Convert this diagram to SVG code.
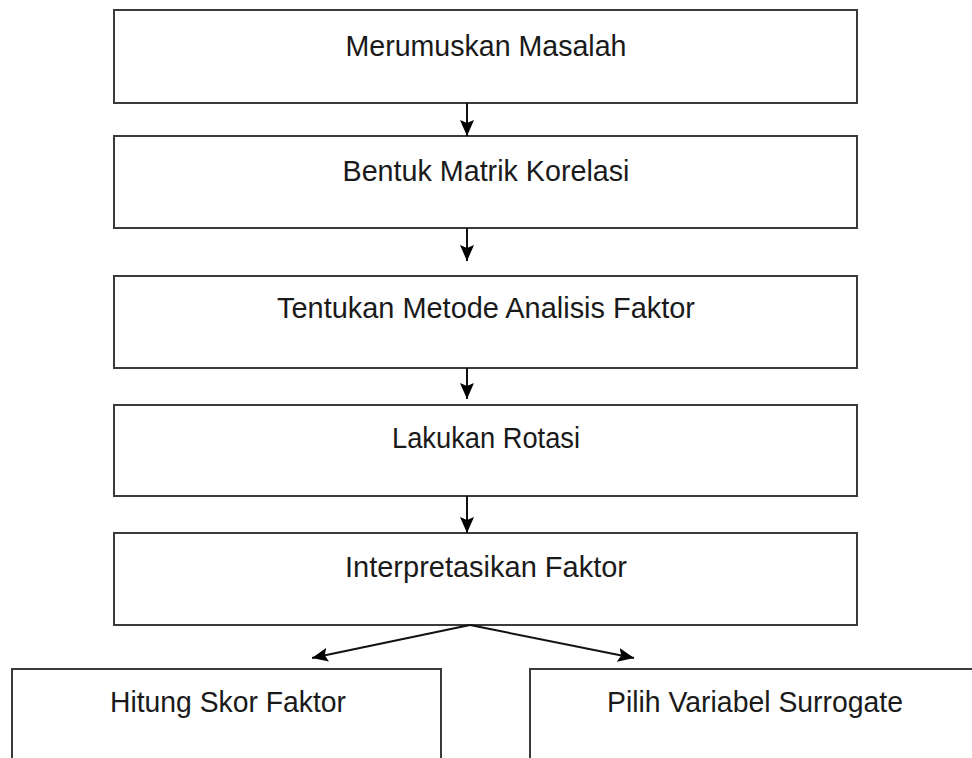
<svg xmlns="http://www.w3.org/2000/svg" width="972" height="758" viewBox="0 0 972 758">
<style>
.box{fill:#ffffff;stroke:#3a3a3a;stroke-width:2}
.lbl{font-family:"Liberation Sans",Arial,sans-serif;font-size:29px;fill:#1a1a1a;text-anchor:middle}
.conn{stroke:#111;stroke-width:2;fill:none;marker-end:url(#ah)}
</style>
<defs>
<marker id="ah" viewBox="0 0 16 14" refX="16" refY="7" markerWidth="16" markerHeight="14" markerUnits="userSpaceOnUse" orient="auto">
<path d="M0,0 L16,7 L0,14 L3,7 z" fill="#000"/>
</marker>
</defs>
<rect width="972" height="758" fill="#ffffff"/>
<g id="n1"><rect class="box" x="114" y="10" width="743" height="93"/><text class="lbl" x="486" y="56" textLength="281" lengthAdjust="spacingAndGlyphs">Merumuskan Masalah</text></g>
<g id="n2"><rect class="box" x="114" y="136" width="743" height="92"/><text class="lbl" x="486" y="181" textLength="287" lengthAdjust="spacingAndGlyphs">Bentuk Matrik Korelasi</text></g>
<g id="n3"><rect class="box" x="114" y="276" width="743" height="92"/><text class="lbl" x="486" y="318" textLength="418" lengthAdjust="spacingAndGlyphs">Tentukan Metode Analisis Faktor</text></g>
<g id="n4"><rect class="box" x="114" y="405" width="743" height="91"/><text class="lbl" x="486" y="448" textLength="188" lengthAdjust="spacingAndGlyphs">Lakukan Rotasi</text></g>
<g id="n5"><rect class="box" x="114" y="533" width="743" height="92"/><text class="lbl" x="486" y="577" textLength="282" lengthAdjust="spacingAndGlyphs">Interpretasikan Faktor</text></g>
<g id="n6"><rect class="box" x="12" y="669" width="429" height="100"/><text class="lbl" x="228" y="712" textLength="236" lengthAdjust="spacingAndGlyphs">Hitung Skor Faktor</text></g>
<g id="n7"><rect class="box" x="530" y="669" width="460" height="100"/><text class="lbl" x="755" y="712" textLength="296" lengthAdjust="spacingAndGlyphs">Pilih Variabel Surrogate</text></g>
<g id="connectors">
<line class="conn" x1="467" y1="103" x2="467" y2="136"/>
<line class="conn" x1="467" y1="228" x2="467" y2="261"/>
<line class="conn" x1="467" y1="368" x2="467" y2="399"/>
<line class="conn" x1="467" y1="496" x2="467" y2="533"/>
<line class="conn" x1="470" y1="625" x2="312" y2="658"/>
<line class="conn" x1="470" y1="625" x2="634" y2="658"/>
</g>
</svg>
